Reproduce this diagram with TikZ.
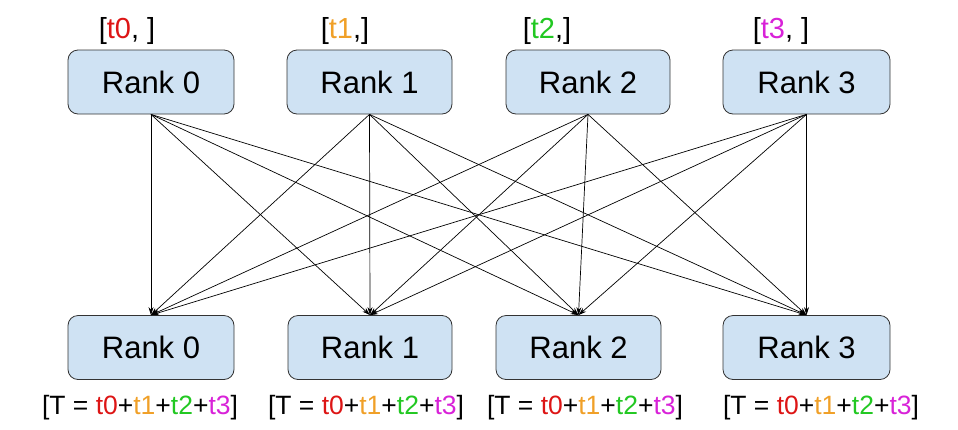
\documentclass[tikz,border=0pt]{standalone}
\usepackage{fontspec}
\setmainfont{Liberation Sans}
\usetikzlibrary{arrows.meta}
\definecolor{boxfill}{HTML}{CFE2F3}
\definecolor{boxline}{HTML}{333333}
\definecolor{cRed}{HTML}{DD1515}
\definecolor{cOrange}{HTML}{F0A028}
\definecolor{cGreen}{HTML}{22C822}
\definecolor{cMag}{HTML}{D822D8}
\tikzset{
  rankbox/.style={draw=boxline, line width=0.8pt, fill=boxfill, rounded corners=10pt,
    minimum height=64pt, inner sep=0pt, font=\fontsize{31}{34}\selectfont},
  toplabel/.style={inner sep=0pt, font=\fontsize{29}{32}\selectfont},
  sumlabel/.style={inner sep=0pt, font=\fontsize{26.5}{30}\selectfont},
  conn/.style={draw=black, line width=0.7pt, -{Stealth[length=8pt,width=5pt]}}
}
\newcommand{\sumtext}{[T = \textcolor{cRed}{t0}+\textcolor{cOrange}{t1}+\textcolor{cGreen}{t2}+\textcolor{cMag}{t3}]}
\begin{document}
\begin{tikzpicture}[x=1pt,y=-1pt]
\useasboundingbox (0,0) rectangle (958,429);
% top boxes
\node[rankbox, minimum width=166pt] (a0) at (151,82) {Rank 0};
\node[rankbox, minimum width=165pt] (a1) at (369.5,82) {Rank 1};
\node[rankbox, minimum width=164pt] (a2) at (588,82) {Rank 2};
\node[rankbox, minimum width=167pt] (a3) at (806.5,82) {Rank 3};
% bottom boxes
\node[rankbox, minimum width=166pt] (b0) at (151,347.5) {Rank 0};
\node[rankbox, minimum width=164pt] (b1) at (370,347.5) {Rank 1};
\node[rankbox, minimum width=165pt] (b2) at (578.5,347.5) {Rank 2};
\node[rankbox, minimum width=167pt] (b3) at (806.5,347.5) {Rank 3};
% top labels
\node[toplabel] (l0) at (127,31) {[\textcolor{cRed}{t0}, ]};
\node[toplabel] (l1) at (345,31) {[\textcolor{cOrange}{t1},]};
\node[toplabel] (l2) at (547,31) {[\textcolor{cGreen}{t2},]};
\node[toplabel] (l3) at (781,31) {[\textcolor{cMag}{t3}, ]};
% bottom labels
\node[sumlabel] (s0) at (140,408) {\sumtext};
\node[sumlabel] (s1) at (366,408) {\sumtext};
\node[sumlabel] (s2) at (585,408) {\sumtext};
\node[sumlabel] (s3) at (821,408) {\sumtext};
% connectors
\foreach \i in {0,1,2,3}{
  \foreach \j in {0,1,2,3}{
    \draw[conn] (a\i.south) -- (b\j.north);
  }
}
\end{tikzpicture}
\end{document}
